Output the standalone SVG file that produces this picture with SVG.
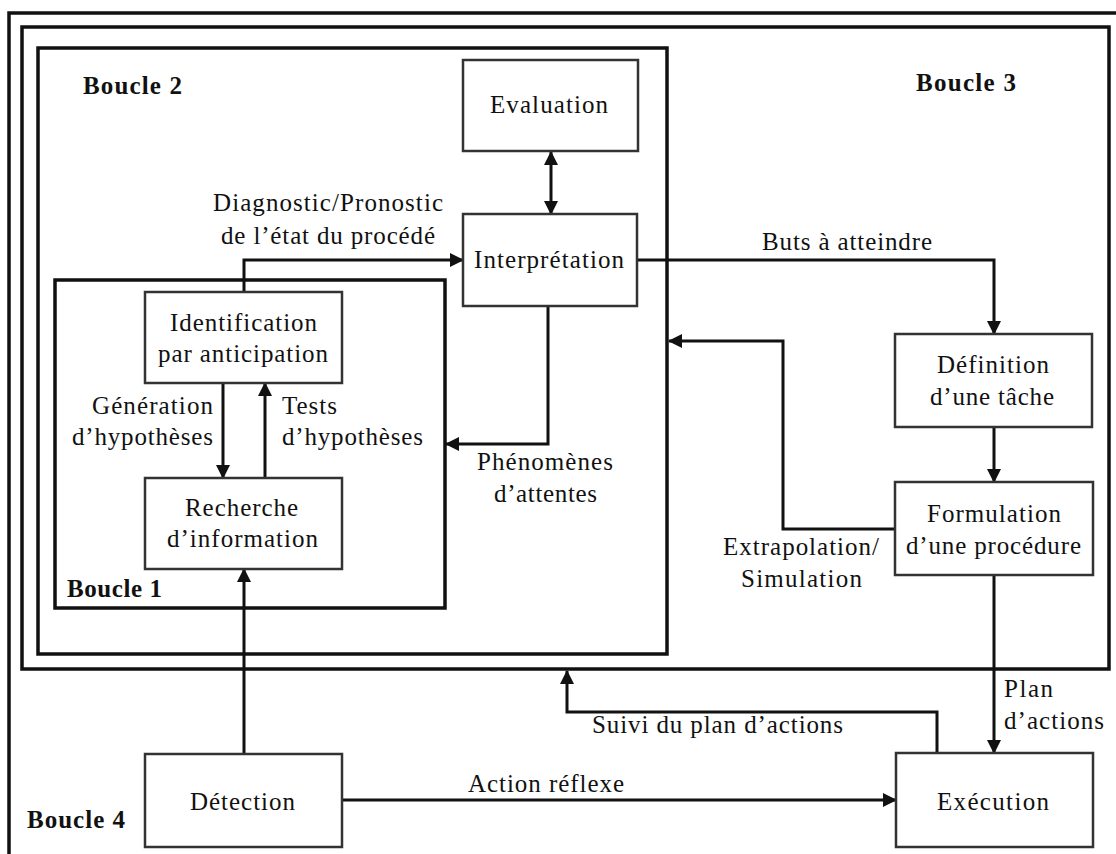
<svg xmlns="http://www.w3.org/2000/svg" width="1116" height="854" viewBox="0 0 1116 854">
  <style>
    .frame { fill: none; stroke: #111; stroke-width: 3.5; }
    .box { fill: #fff; stroke: #333; stroke-width: 2.5; }
    .wire { fill: none; stroke: #111; stroke-width: 3; }
    text { font-family: "Liberation Serif", "Times New Roman", serif; font-size: 25px; fill: #111; }
    .loop { font-weight: bold; font-size: 25px; }
  </style>
  <defs>
    <marker id="arrow" viewBox="0 0 14 14" refX="13" refY="7" markerWidth="14" markerHeight="14" markerUnits="userSpaceOnUse" orient="auto-start-reverse">
      <path d="M0,0 L14,7 L0,14 z" fill="#111"/>
    </marker>
  </defs>

  <rect width="1116" height="854" fill="#fff"/>

  <!-- nested loop frames -->
  <g id="frame-outer">
    <rect class="frame" x="9" y="13" width="1130" height="860"/>
  </g>
  <g id="boucle3">
    <rect class="frame" x="22" y="27" width="1087" height="642"/>
    <text class="loop" x="916" y="91" textLength="100" lengthAdjust="spacing">Boucle 3</text>
  </g>
  <g id="boucle2">
    <rect class="frame" x="38" y="48" width="629" height="606"/>
    <text class="loop" x="83" y="94" textLength="99" lengthAdjust="spacing">Boucle 2</text>
  </g>
  <g id="boucle1">
    <rect class="frame" x="55" y="280" width="390" height="328"/>
    <text class="loop" x="67" y="597" textLength="95" lengthAdjust="spacing">Boucle 1</text>
  </g>
  <g id="boucle4">
    <text class="loop" x="27" y="828" textLength="98" lengthAdjust="spacing">Boucle 4</text>
  </g>

  <!-- connectors -->
  <g id="connectors">
    <path class="wire" d="M244,292 V260 H463" marker-end="url(#arrow)"/>
    <path class="wire" d="M551,152 V214" marker-start="url(#arrow)" marker-end="url(#arrow)"/>
    <path class="wire" d="M637,260 H994 V334" marker-end="url(#arrow)"/>
    <path class="wire" d="M548,306 V444 H446" marker-end="url(#arrow)"/>
    <path class="wire" d="M223,383 V478" marker-end="url(#arrow)"/>
    <path class="wire" d="M265,478 V383" marker-end="url(#arrow)"/>
    <path class="wire" d="M244,754 V569" marker-end="url(#arrow)"/>
    <path class="wire" d="M994,427 V482" marker-end="url(#arrow)"/>
    <path class="wire" d="M895,529 H783 V341 H669" marker-end="url(#arrow)"/>
    <path class="wire" d="M994,575 V753" marker-end="url(#arrow)"/>
    <path class="wire" d="M937,753 V712 H567 V671" marker-end="url(#arrow)"/>
    <path class="wire" d="M342,800 H896" marker-end="url(#arrow)"/>

    <text x="213" y="211" textLength="230" lengthAdjust="spacing">Diagnostic/Pronostic</text>
    <text x="221" y="244" textLength="214" lengthAdjust="spacing">de l’état du procédé</text>
    <text x="762" y="250" textLength="170" lengthAdjust="spacing">Buts à atteindre</text>
    <text x="477" y="470" textLength="136" lengthAdjust="spacing">Phénomènes</text>
    <text x="494" y="502" textLength="103" lengthAdjust="spacing">d’attentes</text>
    <text x="92" y="414" textLength="121" lengthAdjust="spacing">Génération</text>
    <text x="72" y="445" textLength="141" lengthAdjust="spacing">d’hypothèses</text>
    <text x="282" y="414" textLength="55" lengthAdjust="spacing">Tests</text>
    <text x="282" y="445" textLength="141" lengthAdjust="spacing">d’hypothèses</text>
    <text x="723" y="555" textLength="156" lengthAdjust="spacing">Extrapolation/</text>
    <text x="741" y="587" textLength="121" lengthAdjust="spacing">Simulation</text>
    <text x="1004" y="697" textLength="49" lengthAdjust="spacing">Plan</text>
    <text x="1004" y="729" textLength="100" lengthAdjust="spacing">d’actions</text>
    <text x="592" y="733" textLength="251" lengthAdjust="spacing">Suivi du plan d’actions</text>
    <text x="468" y="792" textLength="156" lengthAdjust="spacing">Action réflexe</text>
  </g>

  <!-- process nodes -->
  <g id="evaluation">
    <rect class="box" x="463" y="60" width="175" height="91"/>
    <text x="490" y="113" textLength="118" lengthAdjust="spacing">Evaluation</text>
  </g>
  <g id="interpretation">
    <rect class="box" x="463" y="214" width="174" height="92"/>
    <text x="474" y="268" textLength="150" lengthAdjust="spacing">Interprétation</text>
  </g>
  <g id="identification">
    <rect class="box" x="145" y="292" width="197" height="91"/>
    <text x="170" y="331" textLength="147" lengthAdjust="spacing">Identification</text>
    <text x="158" y="362" textLength="170" lengthAdjust="spacing">par anticipation</text>
  </g>
  <g id="recherche">
    <rect class="box" x="145" y="478" width="197" height="91"/>
    <text x="185" y="516" textLength="113" lengthAdjust="spacing">Recherche</text>
    <text x="167" y="547" textLength="151" lengthAdjust="spacing">d’information</text>
  </g>
  <g id="definition">
    <rect class="box" x="895" y="334" width="197" height="93"/>
    <text x="937" y="373" textLength="112" lengthAdjust="spacing">Définition</text>
    <text x="930" y="405" textLength="124" lengthAdjust="spacing">d’une tâche</text>
  </g>
  <g id="formulation">
    <rect class="box" x="895" y="482" width="198" height="93"/>
    <text x="927" y="522" textLength="134" lengthAdjust="spacing">Formulation</text>
    <text x="906" y="554" textLength="175" lengthAdjust="spacing">d’une procédure</text>
  </g>
  <g id="detection">
    <rect class="box" x="145" y="754" width="197" height="93"/>
    <text x="190" y="810" textLength="105" lengthAdjust="spacing">Détection</text>
  </g>
  <g id="execution">
    <rect class="box" x="896" y="753" width="197" height="94"/>
    <text x="937" y="810" textLength="112" lengthAdjust="spacing">Exécution</text>
  </g>
</svg>
